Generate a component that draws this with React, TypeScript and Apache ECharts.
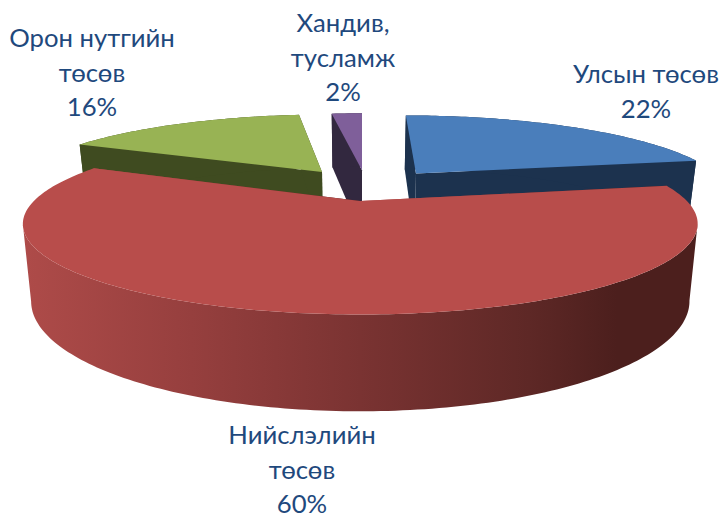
import React, { useEffect, useRef } from "react";
import * as echarts from "echarts";

// Data
const names = ["Улсын төсөв", "Нийслэлийн\nтөсөв", "Орон нутгийн\nтөсөв", "Хандив,\nтусламж"];
const values = [22, 60, 16, 2];

// Style
const topColors = ["#4A7EBB", "#B84D4B", "#98B354", "#7F5F9A"];
const wallColors = ["#1C324E", "", "#3F4B20", "#32283F"];
const layer = [3, 4, 1, 2];
const explodeX = [0.18, -0.005, -0.134, 0];
const explodeY = [0.154, -0.198, 0.175, 0.2];
const labelX = [646, 302, 92, 343];
const labelY = [90.5, 468.5, 71.5, 56.5];
const TEXT = "#1F497D";
const FONT = "Lato, 'Noto Sans', sans-serif";

const XC = 362, Y0 = 185, RX = 311, RY = 77, K = 0.24, DEPTH = 69, SHRINK = 0.025;

function project(X: number, Y: number, Z: number): number[] {
  const w = 1 + K * Y;
  return [XC + (RX * X) / w / (1 + SHRINK * Z), Y0 - (RY * Y) / w + (DEPTH * Z) / w];
}

function renderSlice(params: any, api: any) {
  const i = params.dataIndex;
  const total = values.reduce((a, b) => a + b, 0);
  let before = 0;
  for (let j = 0; j < i; j++) before += values[j];
  const a0 = (before / total) * Math.PI * 2;
  const a1 = ((before + api.value(0)) / total) * Math.PI * 2;
  const ox = explodeX[i], oy = explodeY[i];
  const rim = (t: number, z: number) => project(ox + Math.sin(t), oy + Math.cos(t), z);
  const apex = (z: number) => project(ox, oy, z);
  const topArc: number[][] = [];
  const botArc: number[][] = [];
  const n = Math.max(4, Math.round(((a1 - a0) * 180) / Math.PI));
  for (let s = 0; s <= n; s++) {
    const t = a0 + ((a1 - a0) * s) / n;
    topArc.push(rim(t, 0));
    botArc.push(rim(t, 1));
  }
  // The outer wall is only seen between the arc's rightmost and leftmost points.
  let iMax = 0, iMin = 0;
  topArc.forEach((p, s) => {
    if (p[0] > topArc[iMax][0]) iMax = s;
    if (p[0] < topArc[iMin][0]) iMin = s;
  });
  const from = Math.min(iMax, iMin), to = Math.max(iMax, iMin) + 1;
  const wallTop = topArc.slice(from, to);
  const wallBot = botArc.slice(from, to);
  const wallFill: any =
    wallColors[i] ||
    new echarts.graphic.LinearGradient(0, 0, 1, 0, [
      { offset: 0, color: "#AE4B49" },
      { offset: 0.25, color: "#963F3E" },
      { offset: 0.5, color: "#7A3332" },
      { offset: 0.75, color: "#5E2826" },
      { offset: 0.88, color: "#4C1F1D" },
      { offset: 1, color: "#4C1F1D" },
    ]);
  const z2 = layer[i] * 10;
  const poly = (points: number[][], fill: any, dz: number) => ({
    type: "polygon",
    z2: z2 + dz,
    shape: { points },
    style: { fill, stroke: null },
  });
  return {
    type: "group",
    children: [
      poly([apex(0), rim(a0, 0), rim(a0, 1), apex(1)], wallFill, 0),
      poly([apex(0), rim(a1, 0), rim(a1, 1), apex(1)], wallFill, 1),
      poly([...wallTop, ...wallBot.slice().reverse()], wallFill, 2),
      poly([apex(0), ...topArc], topColors[i], 3),
      {
        type: "text",
        z2: 100,
        x: labelX[i],
        y: labelY[i],
        style: {
          text: names[i] + "\n" + api.value(0) + "%",
          fill: TEXT,
          font: "25.7px " + FONT,
          lineHeight: 34.5,
          align: "center",
          verticalAlign: "middle",
        },
      },
    ],
  };
}

export default function App() {
  const ref = useRef<HTMLDivElement>(null);
  useEffect(() => {
    document.body.style.margin = "0";
    const chart = echarts.init(ref.current!, null, { renderer: "svg" });
    chart.setOption({
      animation: false,
      backgroundColor: "#FFFFFF",
      series: [
        {
          type: "custom",
          coordinateSystem: "none",
          silent: true,
          data: values,
          renderItem: renderSlice,
        },
      ],
    });
    return () => chart.dispose();
  }, []);
  return <div ref={ref} style={{ width: 721, height: 514 }} />;
}
